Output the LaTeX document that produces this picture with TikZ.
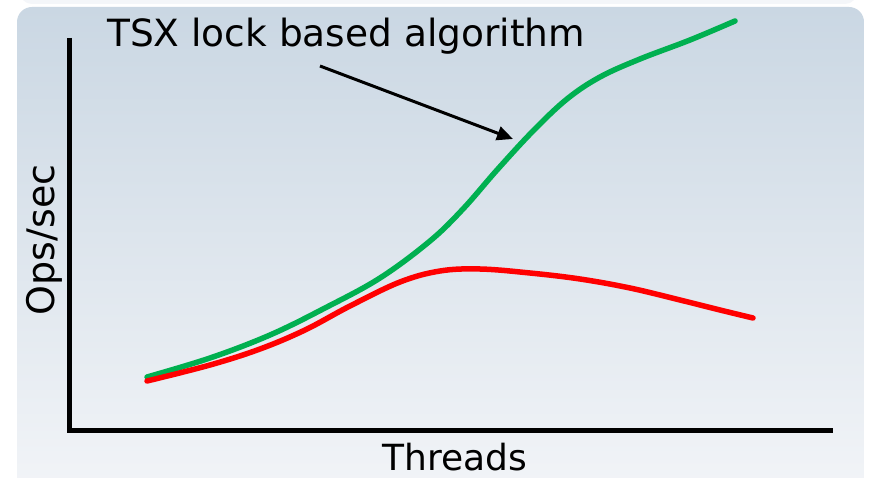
\documentclass[tikz,border=0pt]{standalone}
\usepackage{fontspec}
\setmainfont{DejaVu Sans}
\usetikzlibrary{arrows.meta}
\definecolor{bgtop}{HTML}{CAD7E3}
\definecolor{bgbot}{HTML}{F3F5F8}
\definecolor{strip}{HTML}{F4F6F9}
\definecolor{tsxgreen}{HTML}{00B050}
\definecolor{lockred}{HTML}{FF0000}
\tikzset{
  axis/.style={line width=5pt, black, line join=miter},
  curve/.style={line width=5.5pt, line cap=round, line join=round},
  lbl/.style={inner sep=0pt, text=black},
  pointer/.style={line width=3pt, -{Triangle[length=16pt,width=14pt]}}
}
\begin{document}
\begin{tikzpicture}[x=1pt,y=-1pt]
\useasboundingbox (0,0) rectangle (870,478);
\fill[white] (0,0) rectangle (870,478);
\fill[strip, rounded corners=12pt] (20,-30) rectangle (857,4);
\shade[top color=bgtop, bottom color=bgbot, rounded corners=15pt] (17,7) rectangle (864,505);
% axes
\coordinate (ytop) at (69.5,38);
\coordinate (orig) at (69.5,430.5);
\coordinate (xend) at (833,430.5);
\draw[axis] (ytop) -- (orig) -- (xend);
% curves
\draw[curve, tsxgreen] plot[smooth, tension=0.6] coordinates {(147,377) (210,358) (270,335) (325,308) (380,278) (430,241) (463,209) (497,170) (533,131) (567,99) (600,77) (640,59) (690,40) (735,21)};
\draw[curve, lockred] plot[smooth, tension=0.6] coordinates {(147,381) (210,365) (260,349) (305,330) (350,306) (400,282) (440,271) (480,269) (530,273) (580,279) (630,288) (680,300) (720,310) (753,318)};
% labels
\node[lbl, font=\fontsize{37.5}{42}\selectfont, anchor=base west] (title) at (107,47) {TSX lock based algorithm};
\node[lbl, font=\fontsize{36}{40}\selectfont, anchor=base] (xlab) at (455,470) {Threads};
\node[lbl, font=\fontsize{38}{42}\selectfont, rotate=90, anchor=base] (ylab) at (54,240) {Ops/sec};
\coordinate (ptail) at (320,66);
\coordinate (phead) at (513,139);
\draw[pointer] (ptail) -- (phead);
\end{tikzpicture}
\end{document}
